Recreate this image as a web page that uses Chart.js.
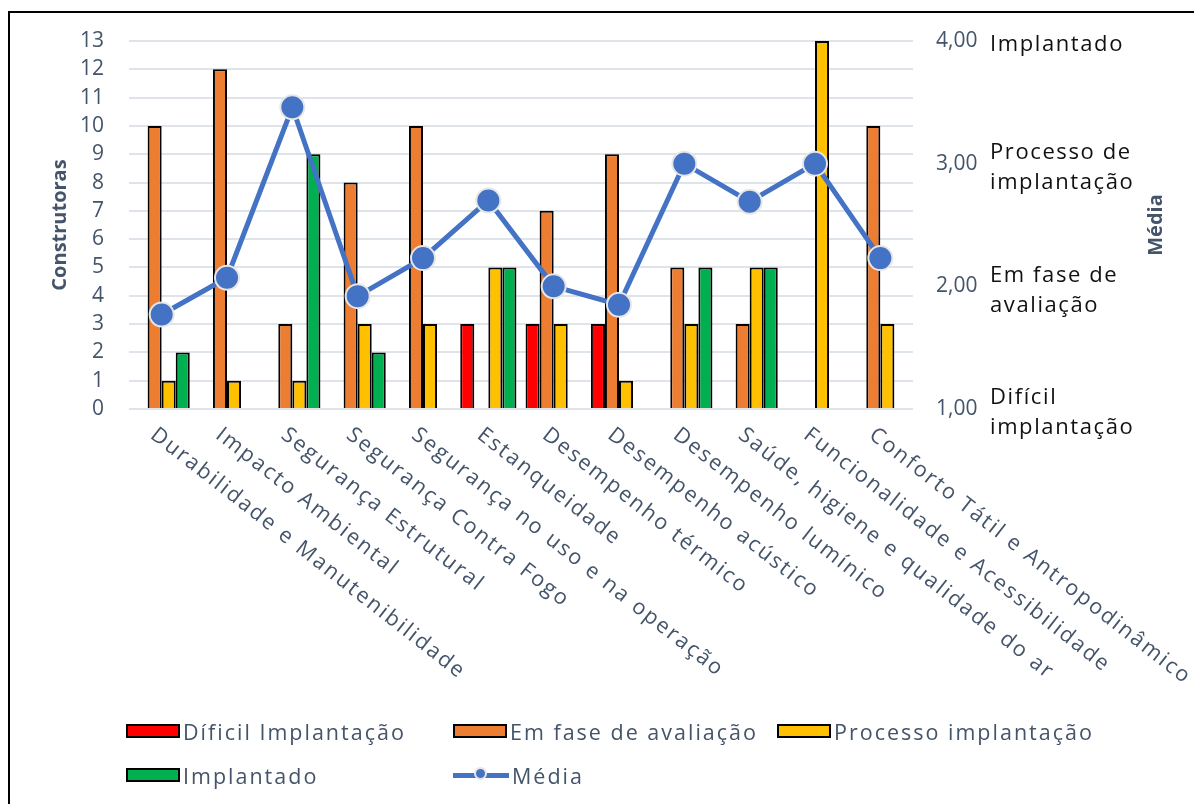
<!DOCTYPE html>
<html lang="pt">
<head>
<meta charset="utf-8">
<title>Construtoras - Média</title>
<script src="https://cdn.jsdelivr.net/npm/chart.js@4.4.1/dist/chart.umd.min.js"></script>
<style>
  html, body { margin: 0; padding: 0; background: #fff; }
  body { width: 1194px; height: 804px; overflow: hidden; position: relative; font-family: 'Open Sans', sans-serif; }
  #moldura { position: absolute; left: 8px; top: 11px; width: 1200px; height: 800px; border: 2px solid #000; }
  #grafico { position: absolute; left: 0; top: 0; }
  .item { position: absolute; display: flex; align-items: center; height: 30px; font-size: 21.5px; color: #44546a; letter-spacing: 2px; white-space: nowrap; }
  .caixa { width: 50px; height: 10px; border: 2px solid #000; margin-right: 3px; }
  .linha { width: 56px; height: 5px; background: #4472c4; position: relative; margin-right: 3px; }
  .linha::after { content: ''; position: absolute; left: 21px; top: -6px; width: 13px; height: 13px; border-radius: 50%; background: #4472c4; border: 2px solid #e6e6e6; box-sizing: border-box; }
</style>
</head>
<body>
<div id="moldura"></div>
<canvas id="grafico" width="1194" height="804"></canvas>
<div id="legenda"></div>
<script>
// Dados
const categorias = [
    'Durabilidade e Manutenibilidade',
    'Impacto Ambiental',
    'Segurança Estrutural',
    'Segurança Contra Fogo',
    'Segurança no uso e na operação',
    'Estanqueidade',
    'Desempenho térmico',
    'Desempenho acústico',
    'Desempenho lumínico',
    'Saúde, higiene e qualidade do ar',
    'Funcionalidade e Acessibilidade',
    'Conforto Tátil e Antropodinâmico'
];
const dificil    = [0, 0, 0, 0, 0, 3, 3, 3, 0, 0, 0, 0];
const avaliacao  = [10, 12, 3, 8, 10, 0, 7, 9, 5, 3, 0, 10];
const processo   = [1, 1, 1, 3, 3, 5, 3, 1, 3, 5, 13, 3];
const implantado = [2, 0, 9, 2, 0, 5, 0, 0, 5, 5, 0, 0];
const media      = [1.77, 2.07, 3.46, 1.92, 2.23, 2.70, 2.00, 1.85, 3.00, 2.69, 3.00, 2.23];

const ticksMedia = ['1,00', '2,00', '3,00', '4,00'];
const rotulosMedia = [['Difícil', 'implantação'], ['Em fase de', 'avaliação'], ['Processo de', 'implantação'], ['Implantado']];

const corTexto = '#44546a';
const fonte = "'Open Sans', sans-serif";

// Rótulos inclinados, título "Média" e textos do eixo direito
const textosExtras = {
    id: 'textosExtras',
    afterDraw(chart) {
        const ctx = chart.ctx;
        const x = chart.scales.x;
        const y1 = chart.scales.y1;
        ctx.save();
        ctx.fillStyle = corTexto;
        ctx.font = '21.5px ' + fonte;
        ctx.letterSpacing = '2.1px';
        ctx.textAlign = 'left';
        ctx.textBaseline = 'top';
        categorias.forEach((c, i) => {
            ctx.save();
            ctx.translate(x.getPixelForValue(i) - 2, 424);
            ctx.rotate(38 * Math.PI / 180);
            ctx.fillText(c, 0, 0);
            ctx.restore();
        });

        // título do eixo direito
        ctx.save();
        ctx.font = 'bold 20px ' + fonte;
        ctx.letterSpacing = '0px';
        ctx.textAlign = 'center';
        ctx.textBaseline = 'middle';
        ctx.translate(1156, (chart.chartArea.top + chart.chartArea.bottom) / 2);
        ctx.rotate(-Math.PI / 2);
        ctx.fillText('Média', 0, 0);
        ctx.restore();

        // textos ao lado dos valores da média
        ctx.fillStyle = '#111';
        ctx.font = '22px ' + fonte;
        ctx.letterSpacing = '1.6px';
        ctx.textBaseline = 'middle';
        rotulosMedia.forEach((linhas, i) => {
            const yc = y1.getPixelForValue(i + 1) + 4;
            const alt = 30;
            linhas.forEach((t, k) => {
                ctx.fillText(t, 990, yc + (k - (linhas.length - 1) / 2) * alt);
            });
        });
        ctx.restore();
    }
};

const ctx = document.getElementById('grafico').getContext('2d');
const grafico = new Chart(ctx, {
    type: 'bar',
    data: {
        labels: categorias,
        datasets: [
            {
                type: 'line', label: 'Média', data: media, yAxisID: 'y1', order: 0,
                borderColor: '#4472c4', borderWidth: 5, tension: 0,
                pointRadius: 12, pointBackgroundColor: '#4472c4',
                pointBorderColor: '#e6e6e6', pointBorderWidth: 2
            },
            { label: 'Díficil Implantação', data: dificil, backgroundColor: '#ff0000', order: 1 },
            { label: 'Em fase de avaliação', data: avaliacao, backgroundColor: '#ed7d31', order: 1 },
            { label: 'Processo implantação', data: processo, backgroundColor: '#ffc000', order: 1 },
            { label: 'Implantado', data: implantado, backgroundColor: '#00b050', order: 1 }
        ].map(d => d.type ? d : Object.assign(d, {
            yAxisID: 'y', borderColor: '#000',
            borderWidth: c => c.raw ? 2 : 0,
            categoryPercentage: 0.86, barPercentage: 1
        }))
    },
    options: {
        responsive: false,
        animation: false,
        layout: { padding: { top: 41, left: 0, right: 0, bottom: 0 } },
        plugins: { legend: { display: false }, tooltip: { enabled: false } },
        scales: {
            x: {
                ticks: { display: false },
                grid: { display: false },
                border: { display: false },
                afterFit: s => { s.height = 395; }
            },
            y: {
                position: 'left', min: 0, max: 13,
                ticks: { stepSize: 1, padding: 25, color: corTexto, font: { family: fonte, size: 21 } },
                grid: { color: '#dfe3ea', lineWidth: 2, drawTicks: false },
                border: { display: false },
                title: { display: true, text: 'Construtoras', color: corTexto, font: { family: fonte, size: 20, weight: 'bold' }, padding: { top: 48 } },
                afterFit: s => { s.width = 129; }
            },
            y1: {
                position: 'right', min: 1, max: 4,
                ticks: { stepSize: 1, padding: 23, color: corTexto, font: { family: fonte, size: 21 },
                    callback: v => ticksMedia[v - 1] },
                grid: { drawOnChartArea: false, drawTicks: false },
                border: { display: false },
                afterFit: s => { s.width = 281; }
            }
        }
    },
    plugins: [textosExtras]
});

// Legenda em HTML (colunas alinhadas como no original)
const colunas = [126, 453, 777];
const linhasLeg = [731, 775];
const ordemLeg = [1, 2, 3, 4, 0];
const legenda = document.getElementById('legenda');
ordemLeg.forEach((idx, n) => {
    const ds = grafico.data.datasets[idx];
    const el = document.createElement('div');
    el.className = 'item';
    el.style.left = colunas[n % 3] + 'px';
    el.style.top = (linhasLeg[Math.floor(n / 3)] - 15) + 'px';
    const marca = document.createElement('span');
    if (ds.type === 'line') {
        marca.className = 'linha';
    } else {
        marca.className = 'caixa';
        marca.style.background = ds.backgroundColor;
    }
    el.appendChild(marca);
    el.appendChild(document.createTextNode(ds.label));
    legenda.appendChild(el);
});
</script>
</body>
</html>
